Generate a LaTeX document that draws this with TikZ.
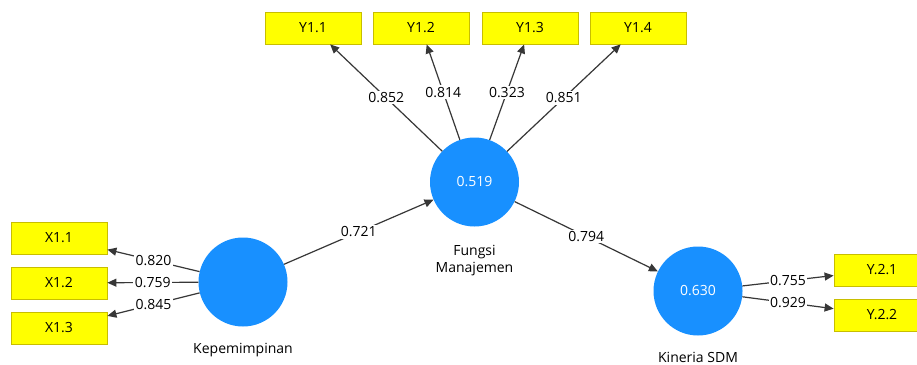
\documentclass[tikz,border=0pt]{standalone}
\usepackage{fontspec}
\setmainfont{Open Sans}
\usetikzlibrary{arrows.meta}
\definecolor{lvblue}{RGB}{24,144,255}
\definecolor{boxyellow}{RGB}{255,255,0}
\definecolor{boxborder}{RGB}{200,190,0}
\definecolor{linegray}{RGB}{55,55,55}
\tikzset{
  latent/.style={circle,fill=lvblue,draw=none,minimum size=89pt,inner sep=0pt,text=white,font=\fontsize{14}{16}\selectfont},
  indicator/.style={rectangle,fill=boxyellow,draw=boxborder,line width=0.8pt,minimum width=96pt,minimum height=32pt,inner sep=0pt,font=\fontsize{14}{16}\selectfont},
  namelabel/.style={font=\fontsize{14}{17}\selectfont,align=center,inner sep=0pt},
  conn/.style={draw=linegray,line width=1.2pt,-{Triangle[length=9pt,width=8pt]}},
  wlabel/.style={fill=white,inner sep=1.5pt,font=\fontsize{14}{16}\selectfont,text=black}
}
\begin{document}
\begin{tikzpicture}[x=1pt,y=-1pt]
\useasboundingbox (0,0) rectangle (917,364);
\clip (0,0) rectangle (917,364);
\fill[white] (0,0) rectangle (917,364);
% latent variables
\node[latent] (kep) at (243,282) {};
\node[latent] (fun) at (474.5,182) {0.519};
\node[latent] (kin) at (698,291) {0.630};
% names
\node[namelabel] (kepname) at (243,350) {Kepemimpinan};
\node[namelabel] (funname) at (474.5,261) {Fungsi\\Manajemen};
\node[namelabel] (kinname) at (698,357) {Kineria SDM};
% indicators
\node[indicator] (x11) at (59,238) {X1.1};
\node[indicator] (x12) at (59,283) {X1.2};
\node[indicator] (x13) at (59,328) {X1.3};
\node[indicator] (y11) at (313,28) {Y1.1};
\node[indicator] (y12) at (421,28) {Y1.2};
\node[indicator] (y13) at (530,28) {Y1.3};
\node[indicator] (y14) at (638,28) {Y1.4};
\node[indicator] (y21) at (882,270) {Y.2.1};
\node[indicator] (y22) at (882,315) {Y.2.2};
% connectors
\draw[conn] (kep) -- node[wlabel] {0.820} (x11);
\draw[conn] (kep) -- node[wlabel] {0.759} (x12);
\draw[conn] (kep) -- node[wlabel] {0.845} (x13);
\draw[conn] (fun) -- node[wlabel] {0.852} (y11);
\draw[conn] (fun) -- node[wlabel] {0.814} (y12);
\draw[conn] (fun) -- node[wlabel] {0.323} (y13);
\draw[conn] (fun) -- node[wlabel] {0.851} (y14);
\draw[conn] (kep) -- node[wlabel] {0.721} (fun);
\draw[conn] (fun) -- node[wlabel] {0.794} (kin);
\draw[conn] (kin) -- node[wlabel] {0.755} (y21);
\draw[conn] (kin) -- node[wlabel] {0.929} (y22);
\end{tikzpicture}
\end{document}
